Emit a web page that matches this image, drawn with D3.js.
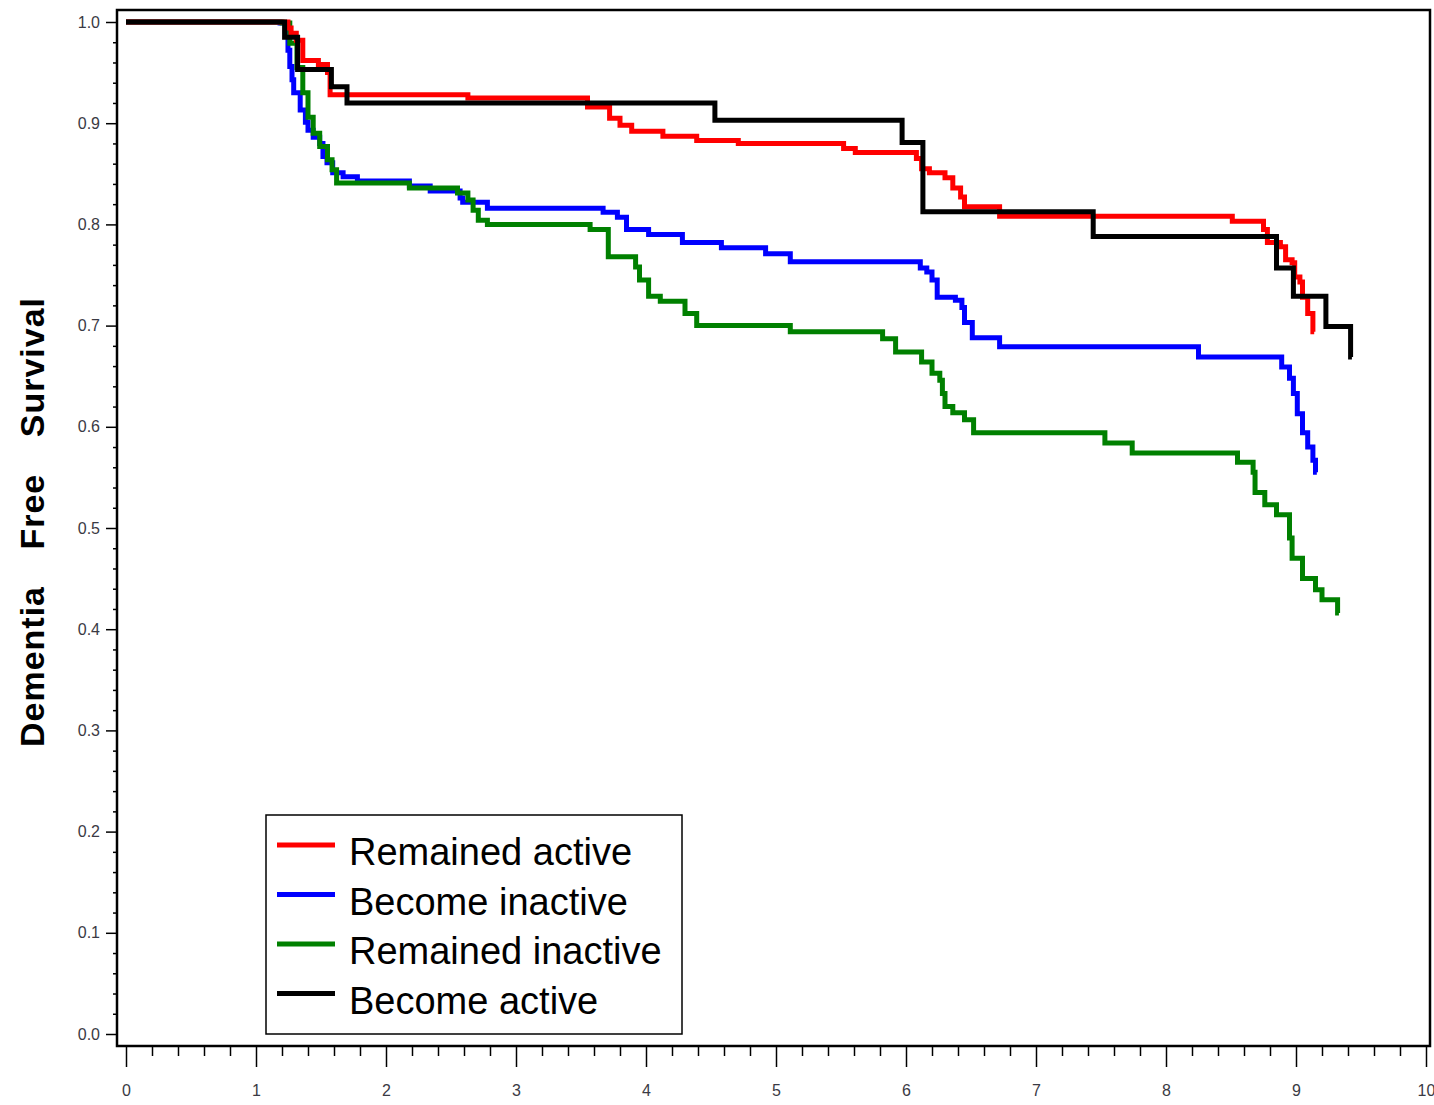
<!DOCTYPE html>
<html>
<head>
<meta charset="utf-8">
<script src="https://cdn.jsdelivr.net/npm/d3@7"></script>
<style>
  body { margin: 0; background: #fff; }
  svg { display: block; font-family: "Liberation Sans", Arial, sans-serif; }
  .axis line { stroke: #000; stroke-width: 1.5; }
</style>
</head>
<body>
<script>
/* global d3 */

// Kaplan-Meier style curves, each point is [time of drop, survival after drop]
const remainedActive = [
  [0, 1.0], [1.246, 0.994], [1.27, 0.989], [1.31, 0.982], [1.36, 0.962],
  [1.48, 0.958], [1.55, 0.95], [1.57, 0.928], [2.63, 0.925], [3.55, 0.916],
  [3.72, 0.905], [3.8, 0.898], [3.89, 0.892], [4.13, 0.887], [4.39, 0.883],
  [4.71, 0.88], [5.52, 0.875], [5.61, 0.871], [6.08, 0.865], [6.12, 0.855],
  [6.18, 0.851], [6.3, 0.846], [6.36, 0.836], [6.42, 0.827], [6.45, 0.8175],
  [6.72, 0.808], [8.51, 0.803], [8.75, 0.795], [8.78, 0.782], [8.88, 0.778],
  [8.92, 0.765], [8.97, 0.762], [8.99, 0.748], [9.03, 0.743], [9.05, 0.728],
  [9.09, 0.712], [9.13, 0.694], [9.14, 0.694]
];
const becomeInactive = [
  [0, 1.0], [1.185, 0.999], [1.23, 0.987], [1.246, 0.972], [1.26, 0.956],
  [1.277, 0.943], [1.29, 0.93], [1.34, 0.913], [1.38, 0.901], [1.4, 0.893],
  [1.44, 0.886], [1.49, 0.88], [1.515, 0.867], [1.546, 0.861], [1.59, 0.851],
  [1.67, 0.847], [1.78, 0.843], [2.18, 0.838], [2.34, 0.833], [2.57, 0.826],
  [2.59, 0.822], [2.78, 0.816], [3.67, 0.812], [3.78, 0.807], [3.85, 0.795],
  [4.02, 0.79], [4.28, 0.782], [4.58, 0.777], [4.92, 0.771], [5.11, 0.763],
  [6.11, 0.757], [6.16, 0.753], [6.2, 0.745], [6.24, 0.728], [6.38, 0.725],
  [6.43, 0.718], [6.45, 0.703], [6.51, 0.688], [6.72, 0.679], [8.25, 0.669],
  [8.89, 0.659], [8.95, 0.648], [8.98, 0.633], [9.01, 0.613], [9.05, 0.594],
  [9.09, 0.58], [9.13, 0.567], [9.15, 0.555], [9.16, 0.555]
];
const remainedInactive = [
  [0, 1.0], [1.2, 0.999], [1.26, 0.979], [1.315, 0.955], [1.36, 0.93],
  [1.4, 0.906], [1.44, 0.89], [1.49, 0.877], [1.55, 0.864], [1.585, 0.854],
  [1.62, 0.841], [2.18, 0.836], [2.55, 0.831], [2.63, 0.824], [2.67, 0.814],
  [2.71, 0.804], [2.78, 0.8], [3.57, 0.795], [3.71, 0.768], [3.92, 0.758],
  [3.95, 0.745], [4.02, 0.729], [4.11, 0.724], [4.3, 0.712], [4.39, 0.7],
  [5.11, 0.694], [5.82, 0.687], [5.92, 0.674], [6.12, 0.664], [6.2, 0.653],
  [6.26, 0.646], [6.28, 0.633], [6.3, 0.62], [6.36, 0.614], [6.45, 0.607],
  [6.52, 0.594], [7.53, 0.584], [7.74, 0.574], [8.55, 0.565], [8.67, 0.555],
  [8.685, 0.535], [8.76, 0.523], [8.85, 0.513], [8.95, 0.49], [8.97, 0.47],
  [9.05, 0.45], [9.15, 0.439], [9.2, 0.429], [9.32, 0.416], [9.33, 0.416]
];
const becomeActive = [
  [0, 1.0], [1.22, 0.985], [1.32, 0.953], [1.58, 0.936], [1.7, 0.92],
  [4.53, 0.903], [5.97, 0.881], [6.13, 0.8126], [7.44, 0.788], [8.85, 0.757],
  [8.98, 0.729], [9.23, 0.699], [9.42, 0.669], [9.43, 0.669]
];

const seriesNames = ['Remained active', 'Become inactive', 'Remained inactive', 'Become active'];
const seriesColors = ['#ff0000', '#0000ff', '#008000', '#000000'];
const seriesValues = [remainedActive, becomeInactive, remainedInactive, becomeActive];

const xTicks = [0, 1, 2, 3, 4, 5, 6, 7, 8, 9, 10];
const yTicks = [0, 0.1, 0.2, 0.3, 0.4, 0.5, 0.6, 0.7, 0.8, 0.9, 1.0];
const yTitle = 'Dementia Free Survival';

document.addEventListener('DOMContentLoaded', () => {
  const W = 1434, H = 1105;
  // plot frame edges, the scales sit a little inside it
  const frame = {left: 117, right: 1430, top: 10, bottom: 1046};

  const svg = d3.select('body').append('svg')
    .attr('width', W)
    .attr('height', H);

  const x = d3.scaleLinear().domain([0, 10]).range([126, 1426]);
  const y = d3.scaleLinear().domain([0, 1]).range([1034, 22]);

  // small helper so both axes get the same label look
  const styleLabels = g => g.selectAll('text')
    .attr('font-size', 16)
    .attr('font-family', '"Liberation Sans", Arial, sans-serif')
    .attr('fill', '#3a3a44');

  // x axis: major ticks with labels, then minor ticks every 0.2
  const xAxis = svg.append('g')
    .attr('class', 'axis')
    .attr('transform', `translate(0,${frame.bottom})`)
    .call(d3.axisBottom(x).tickValues(xTicks).tickSize(21).tickPadding(18).tickFormat(d3.format('d')));
  xAxis.select('.domain').remove();
  styleLabels(xAxis);

  const xMinor = d3.range(0, 10.01, 0.2).filter(v => Math.abs(v - Math.round(v)) > 1e-6);
  svg.append('g')
    .attr('class', 'axis')
    .attr('transform', `translate(0,${frame.bottom})`)
    .call(d3.axisBottom(x).tickValues(xMinor).tickSize(10).tickFormat(''))
    .select('.domain').remove();

  // y axis
  const yAxis = svg.append('g')
    .attr('class', 'axis')
    .attr('transform', `translate(${frame.left},0)`)
    .call(d3.axisLeft(y).tickValues(yTicks).tickSize(11).tickPadding(6).tickFormat(d3.format('.1f')));
  yAxis.select('.domain').remove();
  styleLabels(yAxis);

  const yMinor = d3.range(0, 1.001, 0.02).filter(v => Math.abs(v * 10 - Math.round(v * 10)) > 1e-6);
  svg.append('g')
    .attr('class', 'axis')
    .attr('transform', `translate(${frame.left},0)`)
    .call(d3.axisLeft(y).tickValues(yMinor).tickSize(4).tickFormat(''))
    .select('.domain').remove();

  // survival curves
  const line = d3.line()
    .x(d => x(d[0]))
    .y(d => y(d[1]))
    .curve(d3.curveStepAfter);

  // drawn in this order so black sits on top like the original
  [1, 2, 0, 3].forEach(i => {
    svg.append('path')
      .datum(seriesValues[i])
      .attr('d', line)
      .attr('fill', 'none')
      .attr('stroke', seriesColors[i])
      .attr('stroke-width', 5)
      .attr('stroke-linejoin', 'miter');
  });

  // frame around the plot
  svg.append('rect')
    .attr('x', frame.left)
    .attr('y', frame.top)
    .attr('width', frame.right - frame.left)
    .attr('height', frame.bottom - frame.top)
    .attr('fill', 'none')
    .attr('stroke', '#000')
    .attr('stroke-width', 2.5);

  // y title, spaced out like the original
  svg.append('text')
    .attr('transform', 'translate(44,522) rotate(-90)')
    .attr('text-anchor', 'middle')
    .attr('font-size', 34)
    .attr('font-weight', 'bold')
    .attr('letter-spacing', 1)
    .attr('word-spacing', 26)
    .attr('fill', '#000')
    .text(yTitle);

  // legend
  const legend = svg.append('g').attr('transform', 'translate(266,815)');
  legend.append('rect')
    .attr('width', 416)
    .attr('height', 219)
    .attr('fill', '#fff')
    .attr('stroke', '#000')
    .attr('stroke-width', 1.5);

  const items = legend.selectAll('.item')
    .data(seriesNames)
    .enter().append('g')
      .attr('class', 'item')
      .attr('transform', (d, i) => `translate(0,${30 + i * 49.5})`);
  items.append('line')
    .attr('x1', 11).attr('x2', 69)
    .attr('stroke', (d, i) => seriesColors[i])
    .attr('stroke-width', 5);
  items.append('text')
    .attr('x', 83)
    .attr('y', 20)
    .attr('font-size', 38)
    .attr('fill', '#000')
    .text(d => d);
}, false);
</script>
</body>
</html>
